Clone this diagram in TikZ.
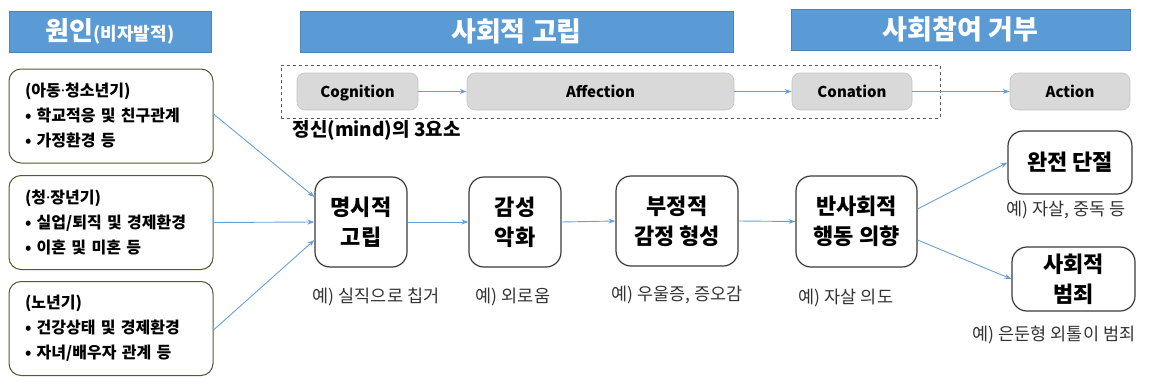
\documentclass[tikz,border=0pt]{standalone}
\usepackage{fontspec}
\setmainfont{Noto Sans CJK KR}
\newfontfamily\latinfont{Noto Sans}
\newcommand{\mdot}{{\latinfont ·}}
\usetikzlibrary{arrows.meta}
\definecolor{hdrblue}{HTML}{5B9BD5}
\definecolor{arrblue}{HTML}{6A9FD6}
\definecolor{greyfill}{HTML}{D9D9D9}
\definecolor{greyline}{HTML}{C4C4C4}
\definecolor{olive}{HTML}{4F5B32}
\definecolor{boxline}{HTML}{3A3A3A}
\tikzset{
  hdrbar/.style={fill=hdrblue, draw=hdrblue!85!black, line width=0.6pt, text=white, font=\bfseries},
  greybox/.style={rounded corners=8pt, fill=greyfill, draw=greyline, line width=0.6pt, minimum height=37, text height=11pt, text depth=0pt, font=\bfseries\fontsize{15}{15}\selectfont},
  agebox/.style={rounded corners=12pt, draw=olive, line width=1pt, fill=white, minimum width=204, minimum height=94, align=left, text width=172, inner xsep=16pt, font=\bfseries\fontsize{16}{25}\selectfont},
  stagebox/.style={rounded corners=15pt, draw=boxline, line width=1.2pt, fill=white, align=center, font=\bfseries\fontsize{22}{30}\selectfont},
  exlabel/.style={text=black!80, font=\fontsize{17.5}{17.5}\selectfont},
  flow/.style={draw=arrblue, line width=0.9pt, -{Stealth[length=7pt,width=5pt]}}
}
\begin{document}
\begin{tikzpicture}[x=1pt,y=-1pt]
\useasboundingbox (0,0) rectangle (1151,391);
% headers
\node[hdrbar, minimum width=202, minimum height=41] (h1) at (110,31.5) {\fontsize{26}{26}\selectfont 원인{\fontsize{18}{18}\selectfont(비자발적)}};
\node[hdrbar, minimum width=433, minimum height=41] (h2) at (516.5,31.5) {\fontsize{27}{27}\selectfont 사회적 고립};
\node[hdrbar, minimum width=339, minimum height=41] (h3) at (960.5,29.5) {\fontsize{27}{27}\selectfont 사회참여 거부};
% dashed box
\node[draw=black!65, dashed, line width=0.7pt, minimum width=659, minimum height=53] (mind) at (610.5,91.5) {};
\node[font=\bfseries\fontsize{19}{19}\selectfont, anchor=west] (mindlbl) at (289,130) {정신(mind)의 3요소};
% grey boxes
\node[greybox, minimum width=121] (cog) at (357.5,91.5) {Cognition};
\node[greybox, minimum width=267] (aff) at (600.5,91.5) {Affection};
\node[greybox, minimum width=120] (con) at (852,91.5) {Conation};
\node[greybox, minimum width=120] (act) at (1070,91.5) {Action};
\draw[flow] (cog) -- (aff);
\draw[flow] (aff) -- (con);
\draw[flow] (con) -- (act);
% age boxes
\node[agebox] (a1) at (111,116) {(아동\mdot 청소년기)\\• 학교적응 및 친구관계\\• 가정환경 등};
\node[agebox] (a2) at (111,222.5) {(청\mdot 장년기)\\• 실업/퇴직 및 경제환경\\• 이혼 및 미혼 등};
\node[agebox] (a3) at (111,328.5) {(노년기)\\• 건강상태 및 경제환경\\• 자녀/배우자 관계 등};
% stage boxes
\node[stagebox, minimum width=92, minimum height=90] (s1) at (361,222) {명시적\\고립};
\node[stagebox, minimum width=92, minimum height=90] (s2) at (515,222) {감성\\악화};
\node[stagebox, minimum width=122, minimum height=90] (s3) at (677,221) {부정적\\감정 형성};
\node[stagebox, minimum width=121, minimum height=91] (s4) at (856.5,221.5) {반사회적\\행동 의향};
\node[stagebox, minimum width=124, minimum height=63] (s5) at (1070,162.5) {완전 단절};
\node[stagebox, minimum width=123, minimum height=64] (s6) at (1073.5,279) {사회적\\범죄};
% example labels
\node[exlabel] (e1) at (376,297) {예) 실직으로 칩거};
\node[exlabel] (e2) at (513,297) {예) 외로움};
\node[exlabel] (e3) at (677,295) {예) 우울증, 증오감};
\node[exlabel] (e4) at (846,298) {예) 자살 의도};
\node[exlabel] (e5) at (1066,210) {예) 자살, 중독 등};
\node[exlabel] (e6) at (1054,335) {예) 은둔형 외톨이 범죄};
% connectors
\draw[flow] (a1.east |- 0,114) -- (s1.west |- 0,197);
\draw[flow] (a2.east) -- (s1.west);
\draw[flow] (a3.east |- 0,330) -- (s1.west |- 0,240);
\draw[flow] (s1) -- (s2);
\draw[flow] (s2.east) -- (s3.west);
\draw[flow] (s3.east) -- (s4.west);
\draw[flow] (s4.east |- 0,209) -- (s5.west);
\draw[flow] (s4.east |- 0,240) -- (s6.west);
\end{tikzpicture}
\end{document}
